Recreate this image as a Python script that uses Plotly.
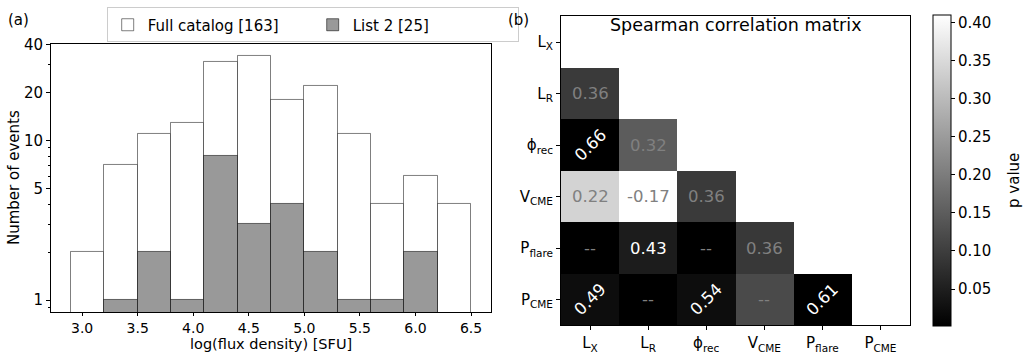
import math
import plotly.graph_objects as go

# ---------------- data: histogram (panel a) ----------------
bin_edges = [2.9, 3.2, 3.5, 3.8, 4.1, 4.4, 4.7, 5.0, 5.3, 5.6, 5.9, 6.2, 6.5]
full_counts = [2, 7, 11, 13, 31, 34, 18, 22, 11, 4, 6, 4]
list2_counts = [0, 1, 2, 1, 8, 3, 4, 2, 1, 1, 2, 0]
x_tick_vals = [3.0, 3.5, 4.0, 4.5, 5.0, 5.5, 6.0, 6.5]
y_tick_vals = [1, 5, 10, 20, 40]
y_minor_vals = [0.9, 2, 3, 4, 6, 7, 8, 9, 30]

# ---------------- data: correlation matrix (panel b) ----------------
params = ["L<sub>X</sub>", "L<sub>R</sub>", "ϕ<sub>rec</sub>",
          "V<sub>CME</sub>", "P<sub>flare</sub>", "P<sub>CME</sub>"]
rho_rows = [
    [],
    ["0.36"],
    ["0.66", "0.32"],
    ["0.22", "-0.17", "0.36"],
    ["--", "0.43", "--", "0.36"],
    ["0.49", "--", "0.54", "--", "0.61"],
]
p_rows = [
    [],
    [0.094],
    [0.001, 0.149],
    [0.339, 0.41, 0.094],
    [0.001, 0.046, 0.001, 0.091],
    [0.022, 0.001, 0.022, 0.12, 0.001],
]
cbar_ticks = [0.05, 0.10, 0.15, 0.20, 0.25, 0.30, 0.35, 0.40]

W, H = 1023, 354
FONT = "DejaVu Sans"


def px_x(v):
    return v / W


def px_y(v):
    return 1 - v / H


centers = [(bin_edges[i] + bin_edges[i + 1]) / 2 for i in range(len(full_counts))]
widths = [bin_edges[i + 1] - bin_edges[i] for i in range(len(full_counts))]

fig = go.Figure()
fig.add_trace(go.Bar(
    x=centers, y=[c if c > 0 else None for c in full_counts], width=widths,
    name="Full catalog [163]",
    marker=dict(color="white", line=dict(color="rgba(0,0,0,0.5)", width=1)),
    xaxis="x", yaxis="y",
))
fig.add_trace(go.Bar(
    x=centers, y=[c if c > 0 else None for c in list2_counts], width=widths,
    name="List 2 [25]",
    marker=dict(color="#999999", line=dict(color="rgba(0,0,0,0.55)", width=1)),
    xaxis="x", yaxis="y",
))

# heatmap matrix
n = len(params)
z = [[None] * n for _ in range(n)]
for i, row in enumerate(p_rows):
    for j, p in enumerate(row):
        z[i][j] = p

fig.add_trace(go.Heatmap(
    z=z, x=list(range(n)), y=list(range(n)),
    colorscale=[[0, "black"], [1, "white"]], zmin=0.001, zmax=0.41,
    xaxis="x2", yaxis="y2", showlegend=False, hoverongaps=False,
    colorbar=dict(
        x=px_x(932.7), xanchor="left", xpad=0, ypad=0,
        y=px_y(167.5), yanchor="middle",
        len=320.4 / H, lenmode="fraction", thickness=18,
        outlinewidth=1, outlinecolor="black",
        tickvals=cbar_ticks, ticktext=[f"{t:.2f}" for t in cbar_ticks],
        ticks="outside", ticklen=4, tickcolor="black",
        tickfont=dict(family=FONT, size=15, color="black"),
    ),
))

annotations = []
for i, row in enumerate(rho_rows):
    for j, lab in enumerate(row):
        p = p_rows[i][j]
        significant = lab != "--" and p < 0.05
        color = "white" if significant else "#808080"
        try:
            rotate = float(lab) >= 0.45
        except ValueError:
            rotate = False
        annotations.append(dict(
            x=j, y=i, xref="x2", yref="y2", text=lab, showarrow=False,
            textangle=-45 if rotate else 0,
            font=dict(family=FONT, size=16.5, color=color),
        ))

annotations += [
    dict(text="(a)", x=px_x(6), y=px_y(12.5), xref="paper", yref="paper",
         xanchor="left", yanchor="middle", showarrow=False,
         font=dict(family=FONT, size=15, color="black")),
    dict(text="(b)", x=px_x(506), y=px_y(12.5), xref="paper", yref="paper",
         xanchor="left", yanchor="middle", showarrow=False,
         font=dict(family=FONT, size=15, color="black")),
    dict(text="Spearman correlation matrix", x=px_x(736), y=px_y(18),
         xref="paper", yref="paper", xanchor="center", yanchor="middle",
         showarrow=False, font=dict(family=FONT, size=17.5, color="black")),
    dict(text="Number of events", x=px_x(14), y=px_y(175), xref="paper", yref="paper",
         xanchor="center", yanchor="middle", textangle=-90, showarrow=False,
         font=dict(family=FONT, size=15, color="black")),
    dict(text="log(flux density) [SFU]", x=px_x(271), y=px_y(346), xref="paper",
         yref="paper", xanchor="center", yanchor="middle", showarrow=False,
         font=dict(family=FONT, size=14.5, color="black")),
    dict(text="p value", x=px_x(1014), y=px_y(178), xref="paper", yref="paper",
         xanchor="center", yanchor="middle", textangle=-90, showarrow=False,
         font=dict(family=FONT, size=15, color="black")),
]

axis_common = dict(showline=True, mirror=True, linecolor="black", linewidth=1,
                   showgrid=False, zeroline=False, ticks="outside", ticklen=4,
                   tickcolor="black", tickfont=dict(family=FONT, size=15, color="black"))

fig.update_layout(
    width=W, height=H, margin=dict(l=0, r=0, t=0, b=0),
    paper_bgcolor="white", plot_bgcolor="white",
    barmode="overlay", bargap=0,
    xaxis=dict(domain=[px_x(51), px_x(491)], range=[2.72, 6.68],
               tickvals=x_tick_vals, ticktext=[f"{v:.1f}" for v in x_tick_vals],
               anchor="y",
               **{**axis_common, "ticklen": 3,
                  "tickfont": dict(family=FONT, size=14, color="black")}),
    yaxis=dict(domain=[px_y(313.3), px_y(37)], type="log",
               range=[math.log10(0.838), math.log10(40.4)],
               tickvals=y_tick_vals, ticktext=[str(v) for v in y_tick_vals],
               minor=dict(tickvals=y_minor_vals, ticks="outside", ticklen=2,
                          tickcolor="black"),
               anchor="x", **axis_common),
    xaxis2=dict(domain=[px_x(561), px_x(909.5)], range=[-0.5, n - 0.5],
                tickvals=list(range(n)), ticktext=params, anchor="y2",
                **axis_common),
    yaxis2=dict(domain=[px_y(326.7), px_y(8.5)], range=[n - 0.5, -0.5],
                tickvals=list(range(n)), ticktext=params, anchor="x2",
                **axis_common),
    legend=dict(orientation="h", x=px_x(106.7), y=px_y(35.5), xanchor="left",
                yanchor="bottom", bgcolor="white", bordercolor="#cccccc",
                borderwidth=1, font=dict(family=FONT, size=15, color="black"),
                entrywidth=160, entrywidthmode="pixels"),
    annotations=annotations,
    font=dict(family=FONT, color="black"),
)

fig.write_html(
    "out.html",
    config={"displayModeBar": False},
    post_script="document.body.style.margin='0';document.body.style.overflow='hidden';",
)
